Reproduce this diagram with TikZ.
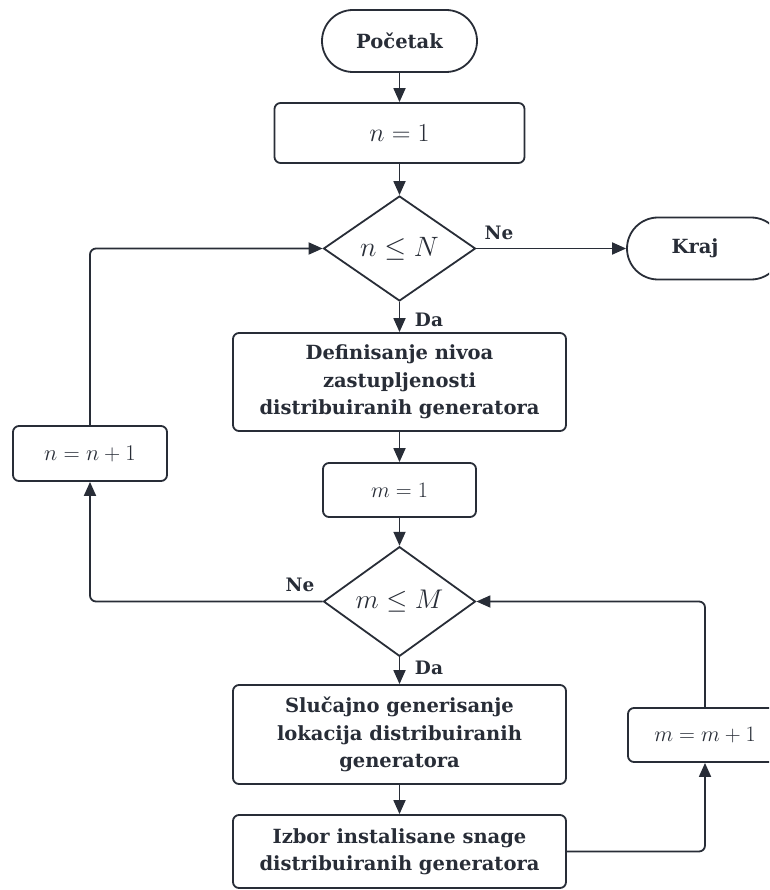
\RequirePackage{fix-cm}
\documentclass[tikz,border=0pt]{standalone}
\usepackage[no-math]{fontspec}
\setmainfont{DejaVu Serif}
\usetikzlibrary{arrows.meta,shapes.geometric}
\definecolor{ink}{RGB}{40,45,55}
\tikzset{
  base/.style={draw=ink, line width=1.8pt, text=ink, align=center, inner sep=0pt, fill=white},
  term/.style={base, minimum width=155pt, minimum height=62pt, rounded corners=31pt,
    font=\bfseries\fontsize{19.5}{24}\selectfont},
  proc/.style={base, rounded corners=6pt, font=\bfseries\fontsize{19.5}{27.5}\selectfont},
  dec/.style={base, diamond, minimum width=152pt, minimum height=105pt},
  conn/.style={draw=ink, line width=1.8pt, rounded corners=6pt,
    -{Triangle[length=14pt,width=12pt]}},
  lbl/.style={text=ink, font=\bfseries\fontsize{18.5}{22}\selectfont, inner sep=0pt}
}
\begin{document}
\begin{tikzpicture}[x=1pt,y=1pt]
\useasboundingbox (0,0) rectangle (769,-890);
\clip (0,0) rectangle (769,-890);
\node[term] (start) at (399.5,-41) {Početak};
\node[proc, minimum width=250pt, minimum height=60pt] (n1) at (399.5,-133)
  {\fontsize{26}{30}\selectfont$n=1$};
\node[dec] (d1) at (399.5,-248.5) {\fontsize{28}{32}\selectfont$n\leq N$};
\node[term] (kraj) at (704.5,-248.5) {\hspace*{-19pt}Kraj};
\node[proc, minimum width=333pt, minimum height=98pt] (def) at (399.5,-382)
  {Definisanje nivoa\\zastupljenosti\\distribuiranih generatora};
\node[proc, minimum width=154pt, minimum height=55pt] (nn1) at (90,-453.5)
  {\fontsize{22.5}{26}\selectfont$n=n+1$};
\node[proc, minimum width=153pt, minimum height=54pt] (m1) at (399.5,-490)
  {\fontsize{22}{26}\selectfont$m=1$};
\node[dec] (d2) at (399.5,-601.5) {\fontsize{27}{31}\selectfont$m\leq M$};
\node[proc, minimum width=333pt, minimum height=99pt] (slu) at (399.5,-734.5)
  {Slučajno generisanje\\lokacija distribuiranih\\generatora};
\node[proc, minimum width=333pt, minimum height=73pt] (izb) at (399.5,-851.5)
  {Izbor instalisane snage\\distribuiranih generatora};
\node[proc, minimum width=154pt, minimum height=54pt] (mm1) at (705,-735)
  {\fontsize{22}{26}\selectfont$m=m+1$};

\draw[conn] (start.south) -- (n1.north);
\draw[conn] (n1.south) -- (d1.north);
\draw[conn] (d1.east) -- (kraj.west);
\node[lbl] (ne1) at (499,-233) {Ne};
\draw[conn] (d1.south) -- (def.north);
\node[lbl] (da1) at (429,-320) {Da};
\draw[conn] (def.south) -- (m1.north);
\draw[conn] (m1.south) -- (d2.north);
\draw[conn] (d2.south) -- (slu.north);
\node[lbl] (da2) at (429,-668) {Da};
\draw[conn] (slu.south) -- (izb.north);
\draw[conn] (izb.east) -| (mm1.south);
\draw[conn] (mm1.north) |- (d2.east);
\draw[conn] (d2.west) -| (nn1.south);
\node[lbl] (ne2) at (300,-585) {Ne};
\draw[conn] (nn1.north) |- (d1.west);
\end{tikzpicture}
\end{document}
